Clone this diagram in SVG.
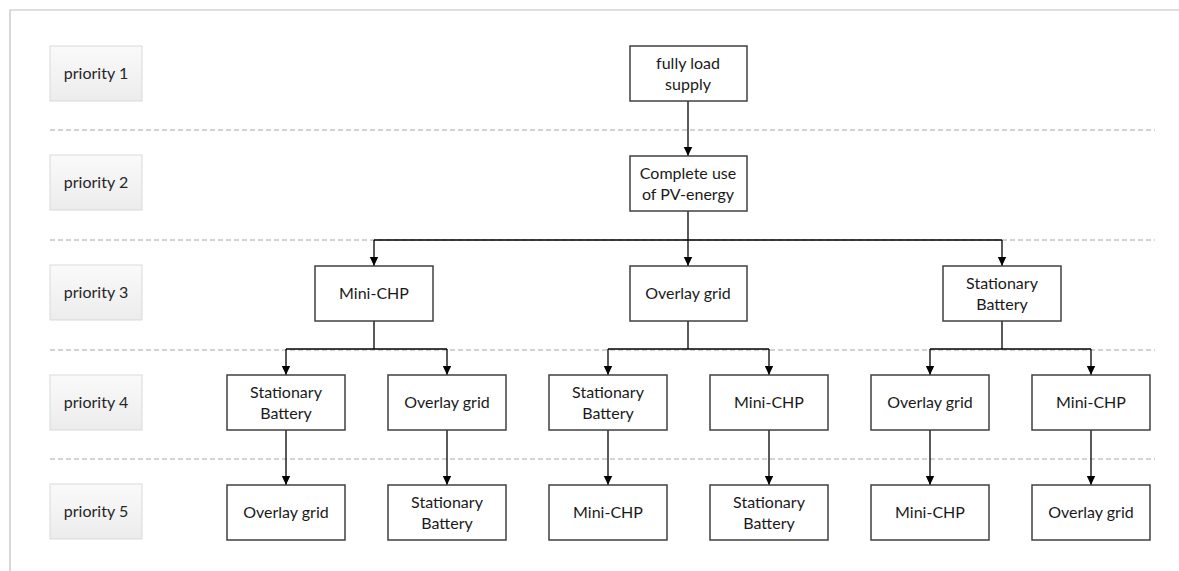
<svg xmlns="http://www.w3.org/2000/svg" width="1179" height="571" viewBox="0 0 1179 571">
<defs>
<linearGradient id="pg" x1="0" y1="0" x2="0" y2="1">
<stop offset="0" stop-color="#fafafa"/>
<stop offset="1" stop-color="#ececec"/>
</linearGradient>
<marker id="ah" markerWidth="10" markerHeight="10" refX="9" refY="5" orient="auto" markerUnits="userSpaceOnUse">
<path d="M0,0.8 L9,5 L0,9.2 Z" fill="#000"/>
</marker>
<style>
.frame{stroke:#bfbfbf;stroke-width:1.2;fill:none}
.dash{stroke:#a6a6a6;stroke-width:1;stroke-dasharray:5,3;fill:none}
.pri{fill:url(#pg);stroke:#d9d9d9;stroke-width:1}
.box{fill:#fff;stroke:#404040;stroke-width:1.5}
.t{font-family:Lato,"Liberation Sans",sans-serif;font-size:16px;fill:#1a1a1a;text-anchor:middle}
.pt{font-family:Lato,"Liberation Sans",sans-serif;font-size:16px;fill:#262626;text-anchor:middle}
.c{stroke:#000;stroke-width:1.3;fill:none}
.ca{stroke:#000;stroke-width:1.3;fill:none;marker-end:url(#ah)}
</style>
</defs>
<rect width="1179" height="571" fill="#fff"/>
<path class="frame" d="M10,571 V10 H1179"/>
<g id="separators">
<line class="dash" x1="50" y1="130" x2="1155" y2="130"/>
<line class="dash" x1="50" y1="240" x2="1155" y2="240"/>
<line class="dash" x1="50" y1="350" x2="1155" y2="350"/>
<line class="dash" x1="50" y1="459" x2="1155" y2="459"/>
</g>
<g id="priority1"><rect class="pri" x="50" y="46" width="92" height="55"/><text class="pt" x="96" y="79">priority 1</text></g>
<g id="priority2"><rect class="pri" x="50" y="155" width="92" height="55"/><text class="pt" x="96" y="188">priority 2</text></g>
<g id="priority3"><rect class="pri" x="50" y="265" width="92" height="55"/><text class="pt" x="96" y="298">priority 3</text></g>
<g id="priority4"><rect class="pri" x="50" y="375" width="92" height="55"/><text class="pt" x="96" y="408">priority 4</text></g>
<g id="priority5"><rect class="pri" x="50" y="484" width="92" height="55"/><text class="pt" x="96" y="517">priority 5</text></g>

<g id="connectors">
<line class="ca" x1="688" y1="101" x2="688" y2="156"/>
<line class="c" x1="688" y1="211" x2="688" y2="240"/>
<path class="c" d="M374,240 H1002"/>
<line class="ca" x1="374" y1="240" x2="374" y2="266"/>
<line class="ca" x1="688" y1="240" x2="688" y2="266"/>
<line class="ca" x1="1002" y1="240" x2="1002" y2="266"/>
<line class="c" x1="374" y1="321" x2="374" y2="349"/>
<path class="c" d="M286,349 H447"/>
<line class="ca" x1="286" y1="349" x2="286" y2="375"/>
<line class="ca" x1="447" y1="349" x2="447" y2="375"/>
<line class="c" x1="688" y1="321" x2="688" y2="349"/>
<path class="c" d="M608,349 H769"/>
<line class="ca" x1="608" y1="349" x2="608" y2="375"/>
<line class="ca" x1="769" y1="349" x2="769" y2="375"/>
<line class="c" x1="1002" y1="321" x2="1002" y2="349"/>
<path class="c" d="M930,349 H1091"/>
<line class="ca" x1="930" y1="349" x2="930" y2="375"/>
<line class="ca" x1="1091" y1="349" x2="1091" y2="375"/>
<line class="ca" x1="286" y1="430" x2="286" y2="485"/>
<line class="ca" x1="447" y1="430" x2="447" y2="485"/>
<line class="ca" x1="608" y1="430" x2="608" y2="485"/>
<line class="ca" x1="769" y1="430" x2="769" y2="485"/>
<line class="ca" x1="930" y1="430" x2="930" y2="485"/>
<line class="ca" x1="1091" y1="430" x2="1091" y2="485"/>
</g>

<g id="n_fully"><rect class="box" x="630" y="46" width="117" height="55"/><text class="t" x="688" y="69">fully load</text><text class="t" x="688" y="90">supply</text></g>
<g id="n_pv"><rect class="box" x="630" y="156" width="117" height="55"/><text class="t" x="688" y="179">Complete use</text><text class="t" x="688" y="200">of PV-energy</text></g>

<g id="n3_chp"><rect class="box" x="315" y="266" width="118" height="55"/><text class="t" x="374" y="299">Mini-CHP</text></g>
<g id="n3_grid"><rect class="box" x="630" y="266" width="117" height="55"/><text class="t" x="688" y="299">Overlay grid</text></g>
<g id="n3_bat"><rect class="box" x="943" y="266" width="118" height="55"/><text class="t" x="1002" y="289">Stationary</text><text class="t" x="1002" y="310">Battery</text></g>

<g id="n4_1"><rect class="box" x="227" y="375" width="118" height="55"/><text class="t" x="286" y="398">Stationary</text><text class="t" x="286" y="419">Battery</text></g>
<g id="n4_2"><rect class="box" x="388" y="375" width="118" height="55"/><text class="t" x="447" y="408">Overlay grid</text></g>
<g id="n4_3"><rect class="box" x="549" y="375" width="118" height="55"/><text class="t" x="608" y="398">Stationary</text><text class="t" x="608" y="419">Battery</text></g>
<g id="n4_4"><rect class="box" x="710" y="375" width="118" height="55"/><text class="t" x="769" y="408">Mini-CHP</text></g>
<g id="n4_5"><rect class="box" x="871" y="375" width="118" height="55"/><text class="t" x="930" y="408">Overlay grid</text></g>
<g id="n4_6"><rect class="box" x="1032" y="375" width="118" height="55"/><text class="t" x="1091" y="408">Mini-CHP</text></g>

<g id="n5_1"><rect class="box" x="227" y="485" width="118" height="55"/><text class="t" x="286" y="518">Overlay grid</text></g>
<g id="n5_2"><rect class="box" x="388" y="485" width="118" height="55"/><text class="t" x="447" y="508">Stationary</text><text class="t" x="447" y="529">Battery</text></g>
<g id="n5_3"><rect class="box" x="549" y="485" width="118" height="55"/><text class="t" x="608" y="518">Mini-CHP</text></g>
<g id="n5_4"><rect class="box" x="710" y="485" width="118" height="55"/><text class="t" x="769" y="508">Stationary</text><text class="t" x="769" y="529">Battery</text></g>
<g id="n5_5"><rect class="box" x="871" y="485" width="118" height="55"/><text class="t" x="930" y="518">Mini-CHP</text></g>
<g id="n5_6"><rect class="box" x="1032" y="485" width="118" height="55"/><text class="t" x="1091" y="518">Overlay grid</text></g>
</svg>
